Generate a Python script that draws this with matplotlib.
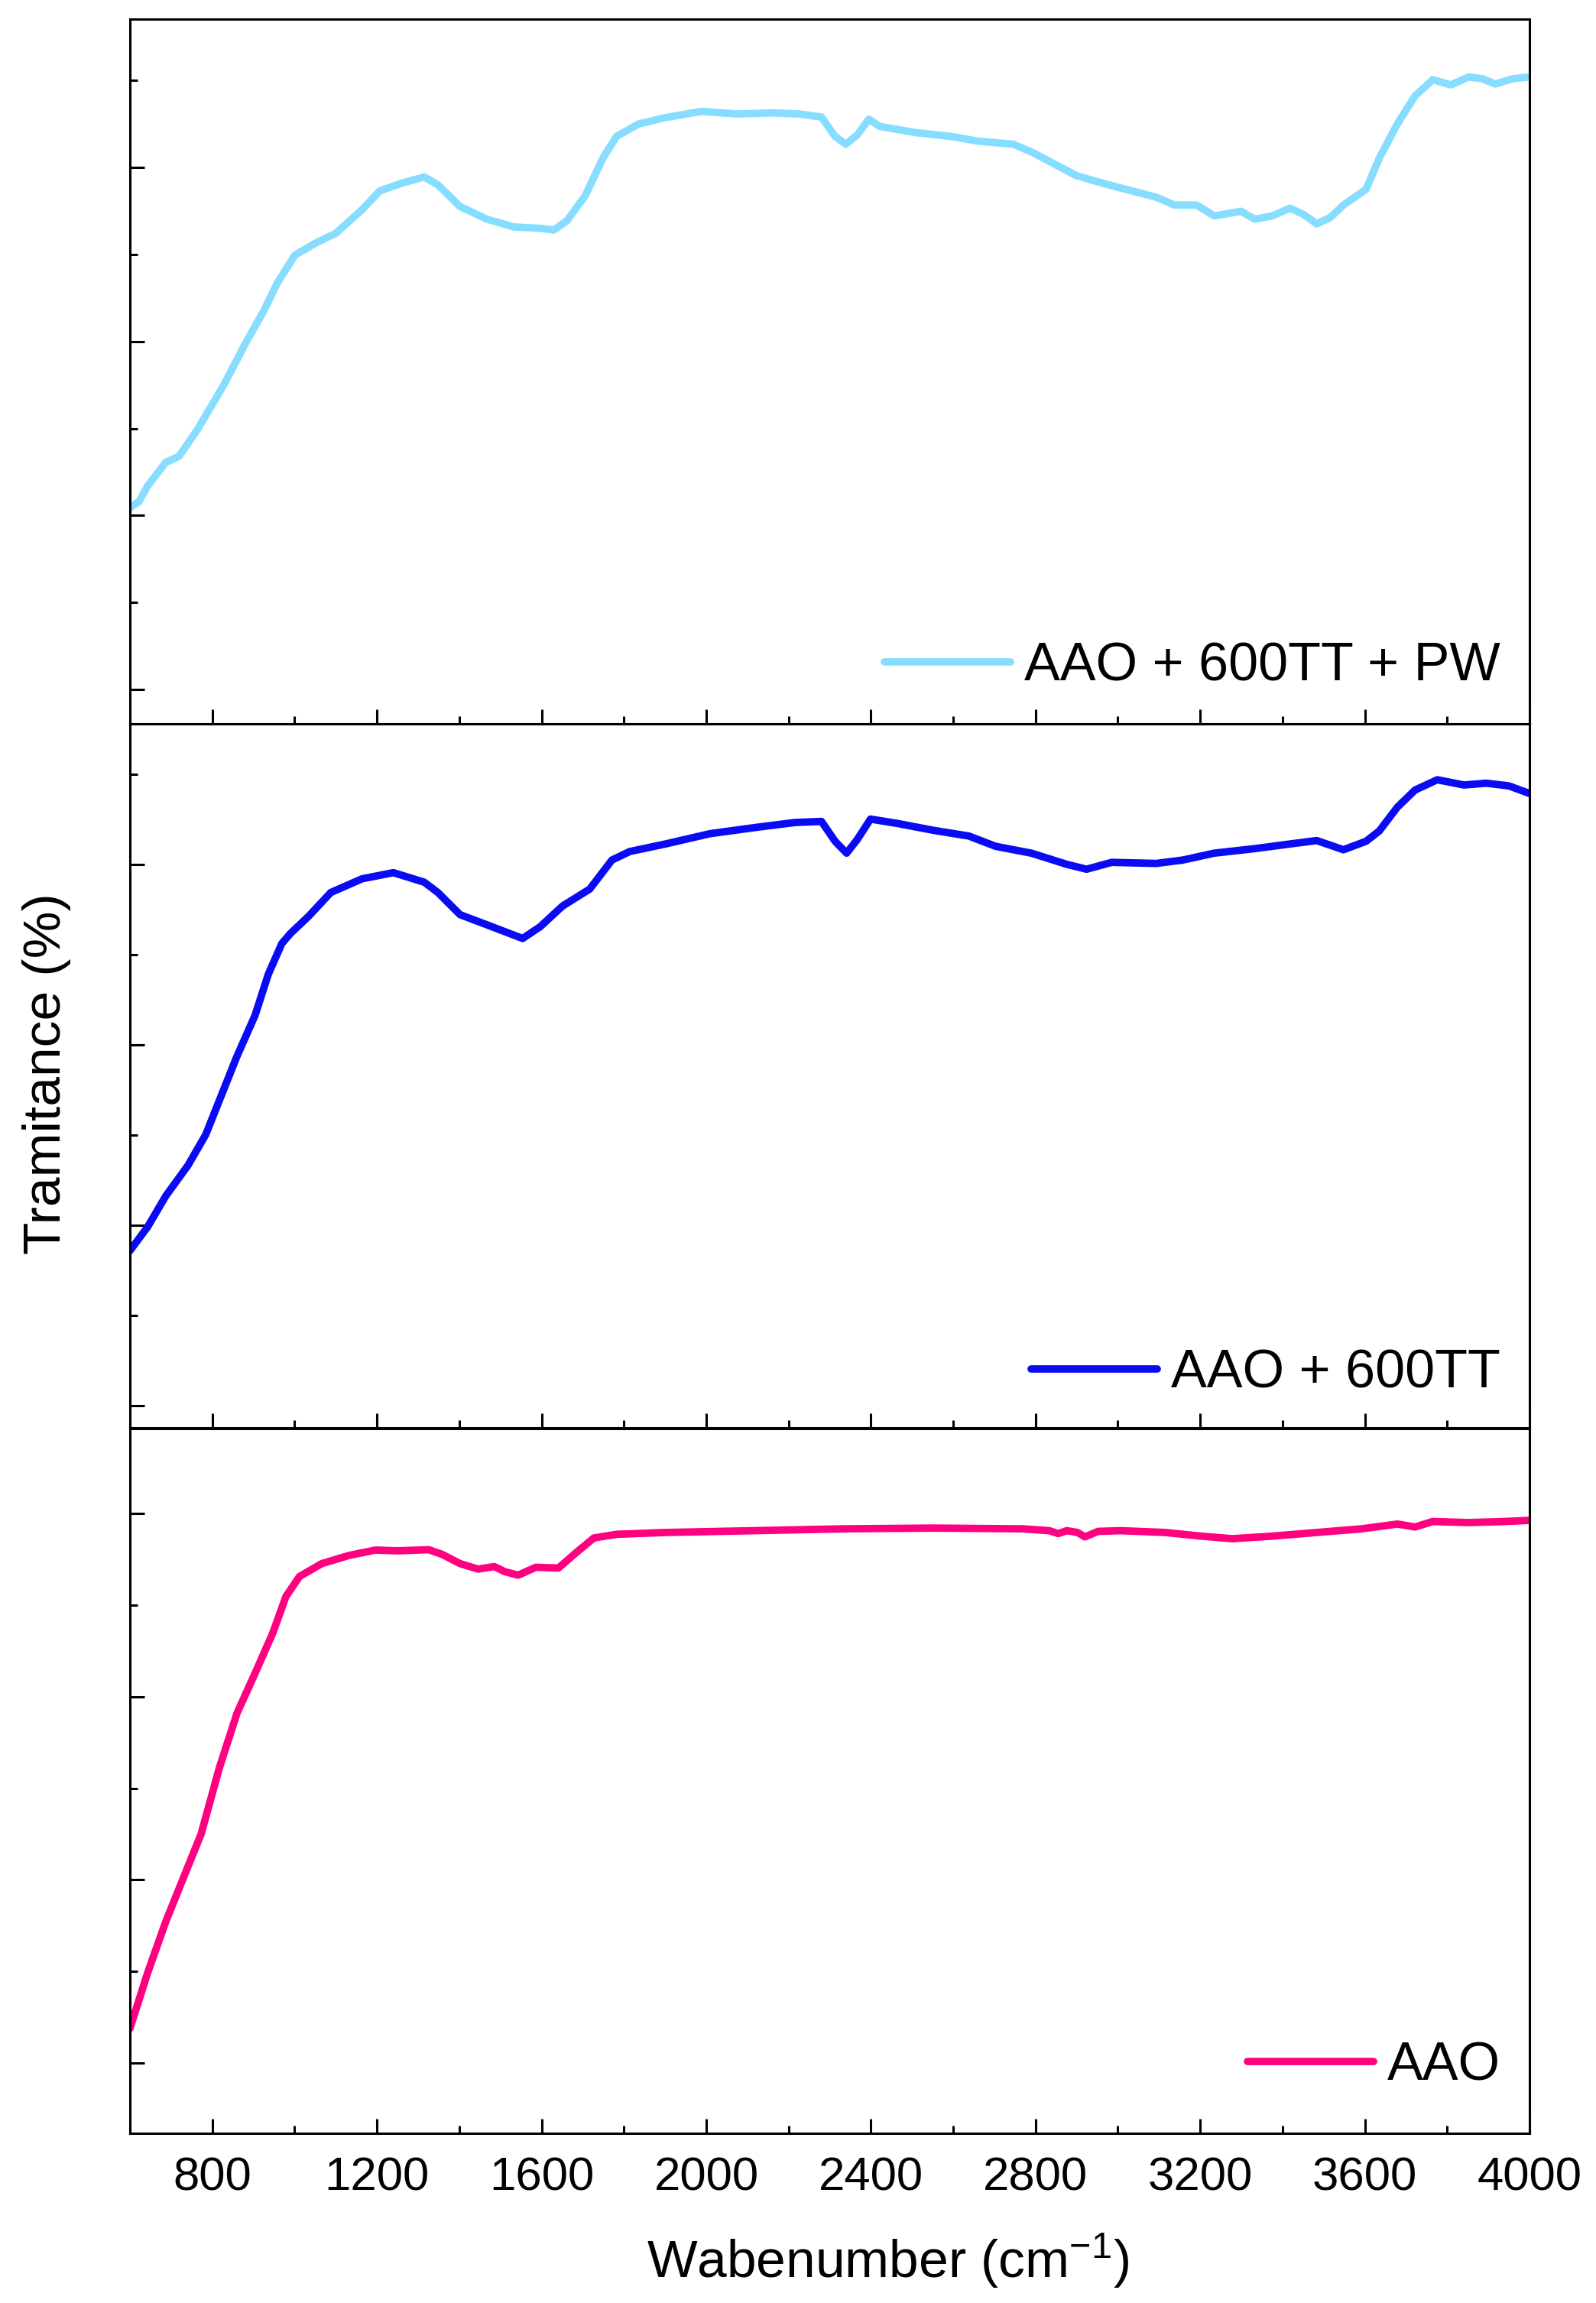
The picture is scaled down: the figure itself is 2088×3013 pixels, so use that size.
import matplotlib
matplotlib.use("Agg")
import matplotlib.pyplot as plt
from matplotlib.ticker import MultipleLocator, NullFormatter

plt.rcParams['font.family'] = ['Liberation Sans', 'DejaVu Sans']
plt.rcParams['mathtext.fontset'] = 'custom'
plt.rcParams['mathtext.rm'] = 'Liberation Sans'
plt.rcParams['mathtext.it'] = 'Liberation Sans'

# ---------------- data ----------------
wn_pw = [600, 622, 643, 687, 719, 763, 828, 882, 925, 958, 1001, 1055, 1099, 1164,
         1207, 1261, 1315, 1348, 1402, 1467, 1532, 1597, 1630, 1662, 1706, 1749, 1782,
         1836, 1901, 1988, 2074, 2161, 2226, 2280, 2313, 2339, 2367, 2395, 2421, 2508,
         2595, 2660, 2746, 2790, 2855, 2898, 2941, 3006, 3093, 3137, 3191, 3234, 3299,
         3332, 3375, 3418, 3451, 3483, 3516, 3548, 3603, 3635, 3679, 3722, 3765, 3809,
         3852, 3885, 3917, 3960, 4000]
t_pw = [70.45, 70.8, 71.7, 73.05, 73.4, 74.9, 77.5, 79.95, 81.75, 83.36, 84.97, 85.7,
        86.2, 87.57, 88.65, 89.1, 89.45, 89.0, 87.75, 87.03, 86.58, 86.5, 86.4, 86.94,
        88.38, 90.53, 91.78, 92.5, 92.86, 93.22, 93.07, 93.13, 93.07, 92.89, 91.78,
        91.33, 91.87, 92.77, 92.36, 92.0, 91.78, 91.51, 91.33, 90.89, 90.08, 89.54,
        89.24, 88.82, 88.29, 87.84, 87.84, 87.21, 87.48, 87.03, 87.21, 87.66, 87.3,
        86.76, 87.12, 87.84, 88.74, 90.53, 92.5, 94.11, 95.04, 94.74, 95.19, 95.1,
        94.79, 95.1, 95.19]

wn_tt = [600, 643, 687, 741, 784, 817, 860, 904, 936, 969, 990, 1034, 1088, 1164, 1240,
         1315, 1348, 1402, 1467, 1554, 1597, 1651, 1717, 1771, 1814, 1901, 2009, 2118,
         2215, 2280, 2313, 2341, 2367, 2399, 2464, 2551, 2638, 2703, 2790, 2876, 2924,
         2985, 3093, 3158, 3234, 3332, 3418, 3483, 3548, 3603, 3635, 3679, 3722, 3776,
         3841, 3895, 3950, 4000]
t_tt = [48.59, 49.91, 51.62, 53.32, 55.02, 56.91, 59.37, 61.64, 63.91, 65.62, 66.18,
        67.13, 68.45, 69.21, 69.55, 69.02, 68.45, 67.22, 66.66, 65.9, 66.56, 67.7,
        68.64, 70.25, 70.72, 71.14, 71.71, 72.05, 72.33, 72.39, 71.29, 70.63, 71.39,
        72.52, 72.28, 71.9, 71.58, 71.01, 70.63, 70.01, 69.74, 70.12, 70.06, 70.25,
        70.63, 70.88, 71.14, 71.33, 70.82, 71.29, 71.86, 73.18, 74.13, 74.7, 74.41,
        74.51, 74.36, 73.94]

wn_aao = [600, 643, 687, 730, 773, 817, 860, 904, 947, 979, 1012, 1066, 1131, 1196,
          1250, 1326, 1359, 1402, 1446, 1485, 1511, 1543, 1586, 1641, 1684, 1727, 1782,
          1901, 2118, 2334, 2551, 2768, 2833, 2855, 2876, 2902, 2920, 2952, 3006, 3115,
          3202, 3278, 3375, 3483, 3592, 3679, 3722, 3765, 3852, 3939, 4000]
t_aao = [21.9, 24.93, 27.72, 30.12, 32.51, 36.1, 39.09, 41.28, 43.47, 45.47, 46.56,
         47.26, 47.7, 48.0, 47.96, 48.02, 47.76, 47.26, 46.96, 47.1, 46.82, 46.63,
         47.06, 47.02, 47.86, 48.66, 48.86, 48.96, 49.06, 49.16, 49.2, 49.16, 49.06,
         48.9, 49.06, 48.96, 48.72, 49.02, 49.06, 48.96, 48.76, 48.62, 48.76, 48.96,
         49.16, 49.42, 49.26, 49.56, 49.5, 49.56, 49.62]

labels = ["AAO + 600TT + PW", "AAO + 600TT", "AAO"]
colors = ["#87DDFF", "#0A0AF5", "#FF0080"]
xticks = [800, 1200, 1600, 2000, 2400, 2800, 3200, 3600, 4000]

# ---------------- figure ----------------
W, H = 2088, 3013
fig = plt.figure(figsize=(W / 100, H / 100), dpi=100)

left = 170 / W
width = (2001 - 170) / W
panels = [  # (top px, bottom px, ylim, legend y)
    (25, 947, (58.03, 98.52), 0.081),
    (947, 1868, (38.77, 77.8), 0.077),
    (1869, 2791, (16.17, 54.63), 0.095),
]
series = [(wn_pw, t_pw), (wn_tt, t_tt), (wn_aao, t_aao)]

axes = []
for i, ((top, bot, ylim, ly), (x, y)) in enumerate(zip(panels, series)):
    ax = fig.add_axes([left, 1 - bot / H, width, (bot - top) / H])
    ax.plot(x, y, color=colors[i], lw=7, solid_capstyle='round',
            solid_joinstyle='round', label=labels[i])
    ax.set_xlim(600, 4000)
    ax.set_ylim(*ylim)
    ax.set_xticks(xticks)
    ax.xaxis.set_minor_locator(MultipleLocator(200))
    ax.yaxis.set_major_locator(MultipleLocator(10))
    ax.yaxis.set_minor_locator(MultipleLocator(5))
    ax.yaxis.set_major_formatter(NullFormatter())
    ax.tick_params(which='both', direction='in', top=False, right=False, width=2.2)
    ax.tick_params(which='major', length=14)
    ax.tick_params(which='minor', length=7)
    if i < 2:
        ax.xaxis.set_major_formatter(NullFormatter())
    else:
        ax.tick_params(axis='x', which='major', labelsize=44.5, pad=22)
    for s in ax.spines.values():
        s.set_linewidth(2.2)
    ax.legend(loc='center right', bbox_to_anchor=(0.979, ly), frameon=False,
              fontsize=50.5, handlelength=2.35, handletextpad=0.25,
              borderaxespad=0, borderpad=0)
    axes.append(ax)

fig.text(61 / W, 1 - 1405 / H, "Tramitance (%)", rotation=90, fontsize=50,
         ha='center', va='center')
fig.text(1162 / W, 1 - 2958 / H, r"Wabenumber (cm$^{\mathregular{-1}}$)", fontsize=50,
         ha='center', va='center')

fig.savefig("out.png", dpi=100)
